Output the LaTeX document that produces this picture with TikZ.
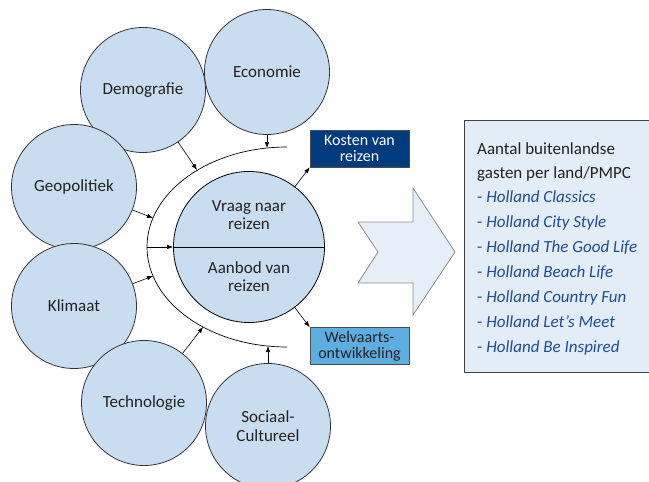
\documentclass[tikz,border=0pt]{standalone}
\usepackage{fontspec}
\setmainfont{Carlito}
\usetikzlibrary{arrows.meta}
\definecolor{circfill}{HTML}{C9DDF1}
\definecolor{kostfill}{HTML}{003B7E}
\definecolor{welvfill}{HTML}{5DAEE0}
\definecolor{chevfill}{HTML}{E6EEF7}
\definecolor{boxfill}{HTML}{E3EDF7}
\definecolor{itblue}{HTML}{1F4C96}
\definecolor{txtdark}{HTML}{222222}
\begin{document}
\begin{tikzpicture}[x=1pt,y=-1pt,
  circ/.style={circle, draw=black!80, line width=0.8pt, fill=circfill,
    minimum size=125pt, inner sep=0pt, align=center, text=txtdark,
    font=\fontsize{17}{19}\selectfont},
  arr/.style={-{Latex[length=6pt,width=4.5pt]}, line width=0.6pt},
  smallbox/.style={draw=black!70, line width=0.6pt, minimum width=99pt,
    minimum height=37pt, inner sep=0pt, align=center,
    font=\fontsize{16}{16}\selectfont},
  boxtxt/.style={anchor=base west, inner sep=0pt, font=\fontsize{17}{19}\selectfont},
  midtxt/.style={inner sep=0pt, align=center, text=txtdark, font=\fontsize{17}{18}\selectfont}]
\useasboundingbox (0,0) rectangle (649,482);

% outer factor circles
\node[circ] (demo) at (143,90) {Demografie};
\node[circ] (econ) at (267,72) {Economie};
\node[circ] (geo) at (74,187) {Geopolitiek};
\node[circ] (klim) at (74,306) {Klimaat};
\node[circ] (tech) at (144,403) {Technologie};
\node[circ] (soc) at (268,426) {Sociaal-\\Cultureel};

% enclosing arc
\draw[line width=0.7pt] (287,147) arc[start angle=90, end angle=270, x radius=140pt, y radius=100pt];
\coordinate (aE) at (267,148);
\coordinate (aD) at (197,170);
\coordinate (aG) at (153,218);
\coordinate (aM) at (147,247);
\coordinate (aK) at (153,276);
\coordinate (aT) at (203,327);
\coordinate (aS) at (268,346);

% central circle
\node[circle, draw=black, line width=0.8pt, fill=circfill, minimum size=151pt, inner sep=0pt] (core) at (249,247) {};
\draw[line width=0.8pt] (core.west) -- (core.east);
\node[midtxt] (vraag) at (249,215) {Vraag naar\\reizen};
\node[midtxt] (aanbod) at (249,277) {Aanbod van\\reizen};

% arrows to arc
\draw[arr] (econ) -- (aE);
\draw[arr] (demo) -- (aD);
\draw[arr] (geo) -- (aG);
\draw[arr] (aM) -- (core.west);
\draw[arr] (klim) -- (aK);
\draw[arr] (tech) -- (aT);
\draw[arr] (soc) -- (aS);

% output boxes
\node[smallbox, fill=kostfill, text=white] (kost) at (359.5,148.5) {Kosten van\\reizen};
\node[smallbox, fill=welvfill, text=txtdark] (welv) at (359.5,346) {Welvaarts-\\ontwikkeling};
\draw[arr] (core) -- (kost.south west);
\draw[arr] (core) -- (welv.north west);

% big chevron arrow
\draw[draw=black!45, line width=0.8pt, fill=chevfill]
  (358,222) -- (413,222) -- (413,188) -- (455,252) -- (413,315) -- (413,283) -- (358,283) -- (378,252) -- cycle;

% result box
\node[draw=black!75, line width=0.8pt, fill=boxfill, minimum width=186pt, minimum height=252pt, inner sep=0pt, anchor=north west] (res) at (464,120) {};
\node[boxtxt, text=txtdark] (r1) at (477,154) {Aantal buitenlandse};
\node[boxtxt, text=txtdark] (r2) at (477,178) {gasten per land/PMPC};
\node[boxtxt, text=itblue] (r3) at (477,202) {- \textit{Holland Classics}};
\node[boxtxt, text=itblue] (r4) at (477,227) {- \textit{Holland City Style}};
\node[boxtxt, text=itblue] (r5) at (477,252) {- \textit{Holland The Good Life}};
\node[boxtxt, text=itblue] (r6) at (477,277) {- \textit{Holland Beach Life}};
\node[boxtxt, text=itblue] (r7) at (477,302) {- \textit{Holland Country Fun}};
\node[boxtxt, text=itblue] (r8) at (477,327) {- \textit{Holland Let’s Meet}};
\node[boxtxt, text=itblue] (r9) at (477,352) {- \textit{Holland Be Inspired}};
\end{tikzpicture}
\end{document}
